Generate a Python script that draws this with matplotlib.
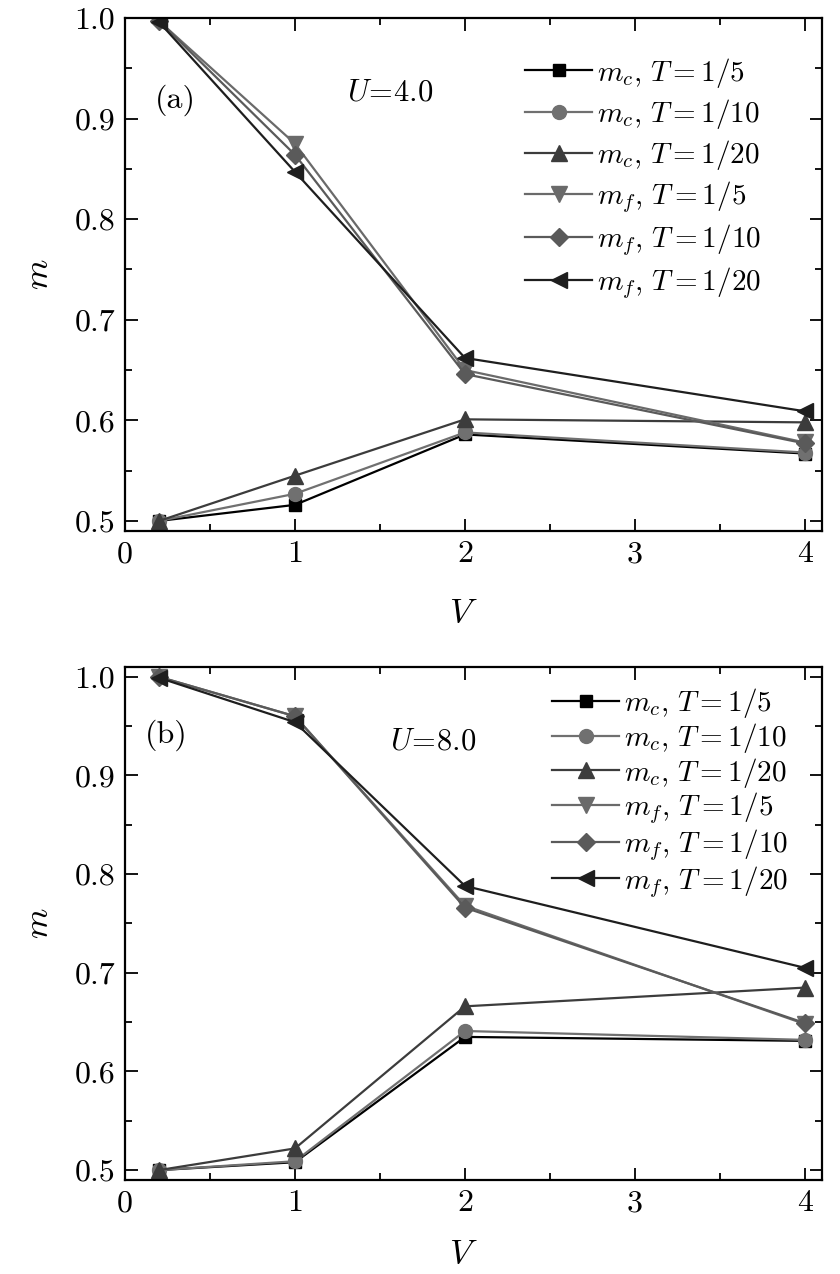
import matplotlib
matplotlib.use("Agg")
import matplotlib.pyplot as plt
from matplotlib.ticker import MultipleLocator

plt.rcParams['font.family'] = 'cmr10'
plt.rcParams['mathtext.fontset'] = 'cm'
plt.rcParams['axes.formatter.use_mathtext'] = True

V = [0.2, 1, 2, 4]

# Panel (a): U = 4.0
a_mc_5 = [0.500, 0.516, 0.586, 0.567]
a_mc_10 = [0.500, 0.527, 0.588, 0.568]
a_mc_20 = [0.500, 0.545, 0.601, 0.598]
a_mf_5 = [0.997, 0.875, 0.650, 0.578]
a_mf_10 = [0.997, 0.864, 0.646, 0.577]
a_mf_20 = [0.996, 0.847, 0.662, 0.609]

# Panel (b): U = 8.0
b_mc_5 = [0.500, 0.508, 0.635, 0.631]
b_mc_10 = [0.500, 0.509, 0.641, 0.632]
b_mc_20 = [0.500, 0.522, 0.666, 0.685]
b_mf_5 = [1.000, 0.960, 0.768, 0.648]
b_mf_10 = [1.000, 0.960, 0.766, 0.649]
b_mf_20 = [0.999, 0.954, 0.788, 0.705]

labels = [r'$m_c,\, T = 1/5$', r'$m_c,\, T = 1/10$', r'$m_c,\, T = 1/20$',
          r'$m_f,\, T = 1/5$', r'$m_f,\, T = 1/10$', r'$m_f,\, T = 1/20$']
markers = ['s', 'o', '^', 'v', 'D', '<']
colors = ['#000000', '#707070', '#3c3c3c', '#6a6a6a', '#5a5a5a', '#1e1e1e']
msizes = [9, 10, 11, 11, 9, 11]

fig = plt.figure(figsize=(8.4, 12.74), dpi=100)
axA = fig.add_axes([0.1488, 0.5832, 0.8298, 0.4027])
axB = fig.add_axes([0.1488, 0.0738, 0.8298, 0.4027])

panels = [
    (axA, [a_mc_5, a_mc_10, a_mc_20, a_mf_5, a_mf_10, a_mf_20], (0.49, 1.0),
     '(a)', r'$U\!=\!4.0$', (0.574, 0.9265), 0.25, (0.043, 0.84), (0.319, 0.855), -0.13),
    (axB, [b_mc_5, b_mc_10, b_mc_20, b_mf_5, b_mf_10, b_mf_20], (0.49, 1.01),
     '(b)', r'$U\!=\!8.0$', (0.613, 0.963), 0.03, (0.029, 0.867), (0.38, 0.854), -0.113),
]

for ax, series, ylim, tag, utext, lpos, lspace, tagpos, upos, xlab_y in panels:
    for s, lab, mk, c, ms in zip(series, labels, markers, colors, msizes):
        ax.plot(V, s, marker=mk, color=c, mfc=c, mec=c, ms=ms, lw=1.6, label=lab)
    ax.set_xlim(0, 4.1)
    ax.set_ylim(*ylim)
    ax.xaxis.set_major_locator(MultipleLocator(1))
    ax.xaxis.set_minor_locator(MultipleLocator(0.5))
    ax.yaxis.set_major_locator(MultipleLocator(0.1))
    ax.yaxis.set_minor_locator(MultipleLocator(0.05))
    ax.tick_params(which='both', direction='in', top=True, right=True, labelsize=23, width=1.3)
    ax.tick_params(which='major', length=9, pad=7)
    ax.tick_params(which='minor', length=5)
    ax.set_yticks([0.5, 0.6, 0.7, 0.8, 0.9, 1.0])
    ax.set_yticklabels(['0.5', '0.6', '0.7', '0.8', '0.9', '1.0'])
    ax.set_xticks([0, 1, 2, 3, 4])
    ax.set_xticklabels(['0', '1', '2', '3', '4'])
    for sp in ax.spines.values():
        sp.set_linewidth(1.6)
    ax.set_ylabel(r'$m$', fontsize=25, labelpad=14)
    ax.set_xlabel(r'$V$', fontsize=25)
    ax.xaxis.set_label_coords(0.485, xlab_y)
    ax.text(tagpos[0], tagpos[1], tag, transform=ax.transAxes, fontsize=23, va='center')
    ax.text(upos[0], upos[1], utext, transform=ax.transAxes, fontsize=22, va='center')
    ax.legend(loc='upper left', bbox_to_anchor=lpos, frameon=False, fontsize=21,
              borderaxespad=0, borderpad=0, handlelength=2.3, handletextpad=0.15,
              labelspacing=lspace)

fig.savefig('out.png', dpi=100, facecolor='white')
